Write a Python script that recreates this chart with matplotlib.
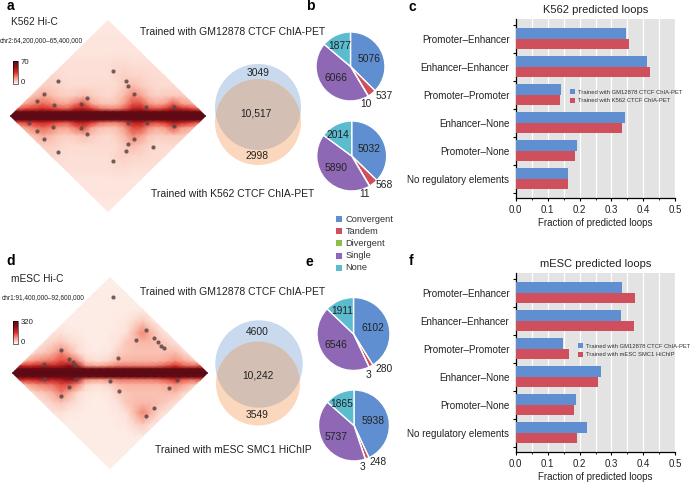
import numpy as np
import matplotlib
matplotlib.use("Agg")
import matplotlib.pyplot as plt
from matplotlib.colors import LinearSegmentedColormap
from matplotlib.patches import Circle, Polygon

plt.rcParams["font.family"] = ["Liberation Sans", "DejaVu Sans"]

W, H = 690, 482

# pie data (clockwise from 12 o'clock)
PIE_NAMES = ["Convergent", "Tandem", "Divergent", "Single", "None"]
PIE_COLORS = ["#5f8fd0", "#cf4f5c", "#8cbf4a", "#8f68b5", "#5cbccf"]
PIE_B1 = [5076, 537, 10, 6066, 1877]
PIE_B2 = [5032, 568, 11, 5890, 2014]
PIE_E1 = [6102, 280, 3, 6546, 1911]
PIE_E2 = [5938, 248, 3, 5737, 1865]

# bar data
CATEGORIES = ["Promoter–Enhancer", "Enhancer–Enhancer", "Promoter–Promoter",
              "Enhancer–None", "Promoter–None", "No regulatory elements"]
K562_GM = [0.345, 0.410, 0.142, 0.342, 0.192, 0.163]
K562_K = [0.354, 0.422, 0.140, 0.333, 0.186, 0.164]
MESC_GM = [0.334, 0.330, 0.148, 0.267, 0.190, 0.223]
MESC_M = [0.374, 0.370, 0.167, 0.258, 0.184, 0.191]

# venn labels
VENN_A = ["3049", "10,517", "2998"]
VENN_D = ["4600", "10,242", "3549"]

# coarse Hi-C maps, one row per distance from the diagonal
DIST_LEVELS = [0, 4, 7, 12, 20, 30, 40, 52, 64, 80, 98]
K562_MAP = [
    [70] * 25,
    [66] * 25,
    [36, 28, 32, 34, 38, 34, 30, 28, 40, 44, 34, 25, 22, 22, 28, 42, 44, 32, 30, 34, 46, 40, 34, 28, 36],
    [10, 13, 17, 22, 26, 22, 17, 16, 23, 30, 16, 11, 10, 11, 18, 30, 30, 19, 15, 18, 28, 18, 15, 11, 10],
    [6, 6, 8, 11, 15, 12, 9, 8, 9, 11, 9, 7, 6, 8, 12, 21, 17, 10, 8, 9, 9, 9, 8, 6, 6],
    [6, 6, 6, 6, 8, 8, 7, 6, 6, 6, 6, 6, 6, 6, 9, 12, 9, 7, 6, 6, 6, 6, 6, 6, 6],
    [5, 5, 5, 5, 6, 7, 6, 5, 5, 5, 5, 5, 5, 7, 8, 7, 7, 6, 6, 5, 5, 5, 5, 5, 5],
    [5, 5, 5, 5, 5, 5, 5, 5, 5, 5, 5, 5, 5, 6, 6, 5, 5, 5, 5, 5, 5, 5, 5, 5, 5],
    [4] * 25,
    [4] * 25,
    [3] * 25,
]
MESC_MAP = [
    [320] * 25,
    [300] * 25,
    [120, 175, 165, 185, 205, 185, 205, 240, 205, 90, 78, 78, 90, 105, 105, 105, 105, 105, 115, 135, 165, 125, 115, 130, 120],
    [30, 42, 70, 92, 102, 112, 140, 130, 95, 34, 24, 24, 36, 56, 60, 60, 60, 60, 60, 70, 90, 70, 48, 32, 30],
    [18, 18, 20, 35, 45, 65, 100, 65, 30, 16, 14, 14, 17, 38, 44, 48, 48, 48, 48, 52, 56, 30, 18, 18, 18],
    [16, 16, 16, 18, 25, 35, 45, 30, 20, 14, 12, 12, 14, 20, 44, 52, 56, 56, 48, 38, 22, 16, 16, 16, 16],
    [14, 14, 14, 14, 16, 18, 20, 16, 14, 12, 12, 12, 14, 16, 22, 55, 95, 62, 30, 18, 14, 14, 14, 14, 14],
    [12, 12, 12, 12, 12, 12, 12, 12, 12, 12, 12, 12, 12, 14, 16, 28, 40, 20, 14, 12, 12, 12, 12, 12, 12],
    [12] * 25,
    [12] * 25,
    [10] * 25,
]

# called loops on the maps (pixel positions in the figure)
K562_LOOPS_X = [113, 126, 128, 134, 146, 174, 87, 81, 54, 44, 37, 58, 29, 37, 44, 53, 58, 81, 87, 128, 134, 128, 126, 113, 147, 153, 174]
K562_LOOPS_Y = [71, 81, 86, 94, 107, 107, 98, 104, 105, 94, 101, 81, 123, 131, 139, 127, 152, 128, 134, 123, 139, 144, 151, 161, 123, 147, 126]
MESC_LOOPS_X = [113, 146, 136, 154, 158, 161, 164, 118, 61, 69, 73, 75, 44, 44, 76, 69, 61, 110, 119, 146, 154, 169, 177]
MESC_LOOPS_Y = [297, 330, 340, 338, 342, 346, 348, 358, 350, 359, 362, 365, 364, 379, 379, 387, 396, 381, 391, 416, 408, 388, 380]


def px_axes(x0, y0, x1, y1):
    return fig.add_axes([x0 / W, 1 - y1 / H, (x1 - x0) / W, (y1 - y0) / H])


def draw_map(ax, rows, x0, x1, yc, half, vmax, loops_x, loops_y):
    rows = np.array(rows, dtype=float)
    levels = np.array(DIST_LEVELS, dtype=float)
    ys = np.concatenate([yc - levels[:0:-1], yc + levels])
    grid = np.vstack([rows[:0:-1], rows])
    xs = np.linspace(x0, x1, rows.shape[1])
    mesh = ax.pcolormesh(xs, ys, grid, cmap=HIC_CMAP, vmin=0, vmax=vmax, shading="gouraud")
    xc = (x0 + x1) / 2
    diamond = Polygon([(x0, yc), (xc, yc - half), (x1, yc), (xc, yc + half)],
                      closed=True, transform=ax.transData, fc="none", ec="none")
    ax.add_patch(diamond)
    mesh.set_clip_path(diamond)
    ax.scatter(loops_x, loops_y, s=9, c="#5a4646", alpha=0.85, linewidths=0, zorder=3)
    return mesh


def draw_venn(ax, cx1, cy1, r1, cx2, cy2, r2, labels, label_pos):
    top = Circle((cx1, cy1), r1, fc="#c9d9ee", ec="none", zorder=2)
    bottom = Circle((cx2, cy2), r2, fc="#fbd7bd", ec="none", zorder=2)
    ax.add_patch(top)
    ax.add_patch(bottom)
    overlap = Circle((cx2, cy2), r2, fc="#d3bfb4", ec="none", zorder=3)
    ax.add_patch(overlap)
    overlap.set_clip_path(Circle((cx1, cy1), r1, transform=ax.transData))
    for lab, (x, y) in zip(labels, label_pos):
        ax.text(x, y, lab, ha="center", va="center", fontsize=7.4, color="#222222", zorder=4)


def draw_pie(cx, cy, r, values, label_pos):
    pax = px_axes(cx - r - 1, cy - r - 1, cx + r + 1, cy + r + 1)
    pax.pie(values, colors=PIE_COLORS, startangle=90, counterclock=False, radius=r,
            wedgeprops={"edgecolor": "white", "linewidth": 1.0})
    pax.set_xlim(-r - 1, r + 1)
    pax.set_ylim(-r - 1, r + 1)
    for val, (x, y) in zip(values, label_pos):
        canvas.text(x, y, str(val), ha="center", va="center", fontsize=7.4, color="#222222", zorder=6)


def draw_bars(y0, y1, title, blue, red, blue_name, red_name, leg_xy):
    bax = px_axes(515.7, y0, 675.3, y1)
    pos = np.arange(len(CATEGORIES))
    bax.set_facecolor("#e3e3e3")
    bax.barh(pos - 0.19, blue, height=0.38, color="#5f8fd0", label=blue_name, zorder=3)
    bax.barh(pos + 0.19, red, height=0.38, color="#cf4f5c", label=red_name, zorder=3)
    bax.set_xlim(0, 0.5)
    bax.set_ylim(5.68, -0.70)
    bax.set_xticks(np.arange(0, 0.51, 0.1))
    bax.set_xticks(np.arange(0.05, 0.5, 0.1), minor=True)
    bax.set_yticks(pos, CATEGORIES)
    bax.set_yticks(np.arange(-0.5, 6), minor=True)
    bax.grid(True, axis="x", which="both", color="white", linewidth=0.9, zorder=1)
    bax.tick_params(axis="y", which="major", length=0, labelsize=7.1, pad=4.5, labelcolor="#222222")
    bax.tick_params(axis="y", which="minor", length=2, width=0.8)
    bax.tick_params(axis="x", which="major", length=2.5, width=0.8, labelsize=7.0, pad=2.5, labelcolor="#222222")
    bax.tick_params(axis="x", which="minor", length=1.5, width=0.6)
    for side in ["top", "right"]:
        bax.spines[side].set_visible(False)
    for side in ["left", "bottom"]:
        bax.spines[side].set_linewidth(0.9)
    bax.set_xlabel("Fraction of predicted loops", fontsize=7.0, labelpad=2.5, color="#222222")
    bax.set_title(title, fontsize=8.0, pad=4, color="#222222")
    bax.legend(loc="upper left", bbox_to_anchor=leg_xy, bbox_transform=canvas.transData,
               frameon=False, fontsize=4.2, handlelength=1.0, handleheight=1.0,
               handletextpad=0.4, labelspacing=0.55, borderpad=0, borderaxespad=0,
               labelcolor="#333333")


fig = plt.figure(figsize=(W / 100, H / 100), dpi=100)
HIC_CMAP = LinearSegmentedColormap.from_list(
    "hic", [(0, "#ffffff"), (0.03, "#fdeee8"), (0.08, "#fcdcd2"), (0.25, "#f79d88"),
            (0.5, "#dc2f26"), (0.75, "#8f0f18"), (1, "#5a0a14")])

# whole figure drawn in pixel coordinates, y pointing down
canvas = fig.add_axes([0, 0, 1, 1])
canvas.set_zorder(5)
canvas.set_xlim(0, W)
canvas.set_ylim(H, 0)
canvas.axis("off")

# heatmaps
mesh_a = draw_map(canvas, K562_MAP, 10, 206, 116, 96, 70, K562_LOOPS_X, K562_LOOPS_Y)
mesh_d = draw_map(canvas, MESC_MAP, 12, 208, 373, 96, 320, MESC_LOOPS_X, MESC_LOOPS_Y)
canvas.set_xlim(0, W)
canvas.set_ylim(H, 0)
for mesh, y0, y1, top_lab in [(mesh_a, 61, 84, "70"), (mesh_d, 321, 344, "320")]:
    cax = px_axes(12.5, y0, 18, y1)
    cb = fig.colorbar(mesh, cax=cax, ticks=[])
    cb.outline.set_linewidth(0.4)
    canvas.text(21, y0 + 1, top_lab, fontsize=5.6, va="center", color="#222222")
    canvas.text(21, y1 - 1, "0", fontsize=5.6, va="center", color="#222222")

canvas.text(11, 22, "K562 Hi-C", fontsize=7.3, va="center", color="#222222")
canvas.text(11, 279.5, "mESC Hi-C", fontsize=7.3, va="center", color="#222222")
canvas.text(0, 41, "chr2:64,200,000–65,400,000", fontsize=4.7, va="center", color="#222222")
canvas.text(2, 298, "chr1:91,400,000–92,600,000", fontsize=4.7, va="center", color="#222222")

# venns
draw_venn(canvas, 258, 107, 43, 258, 122, 43, VENN_A, [(258, 73), (256, 113), (257, 156)])
draw_venn(canvas, 259, 364, 43.7, 258, 383.5, 42, VENN_D, [(257, 332), (258, 375), (257, 415)])
canvas.text(140, 32, "Trained with GM12878 CTCF ChIA-PET", fontsize=7.45, va="center", color="#222222")
canvas.text(151, 194, "Trained with K562 CTCF ChIA-PET", fontsize=7.45, va="center", color="#222222")
canvas.text(140, 292, "Trained with GM12878 CTCF ChIA-PET", fontsize=7.45, va="center", color="#222222")
canvas.text(155, 450, "Trained with mESC SMC1 HiChIP", fontsize=7.45, va="center", color="#222222")

# pies
draw_pie(350.5, 66.5, 34.5, PIE_B1, [(369, 59), (384, 96), (366, 104), (336, 78), (340, 46)])
draw_pie(351.7, 156, 35, PIE_B2, [(369, 149), (384, 185), (365, 194), (336, 168), (338, 135)])
draw_pie(353.5, 334, 36.5, PIE_E1, [(373, 328), (384, 369), (368, 375), (336, 345), (342, 311)])
draw_pie(354, 425.5, 35.5, PIE_E2, [(373, 421), (378, 462), (362, 467), (336, 437), (342, 404)])

# shared pie key
for name, col, y in zip(PIE_NAMES, PIE_COLORS, [219, 231, 243, 255.5, 267.5]):
    canvas.scatter([339], [y], marker="s", s=18, c=col, linewidths=0)
    canvas.text(345.7, y, name, fontsize=6.7, va="center", color="#333333")

# bars
draw_bars(19, 197.7, "K562 predicted loops", K562_GM, K562_K,
          "Trained with GM12878 CTCF ChIA-PET", "Trained with K562 CTCF ChIA-PET", (569.5, 89))
draw_bars(273, 451.7, "mESC predicted loops", MESC_GM, MESC_M,
          "Trained with GM12878 CTCF ChIA-PET", "Trained with mESC SMC1 HiChIP", (577.5, 343))

# panel letters
for lab, x, y in [("a", 10, 6), ("b", 310, 6), ("c", 412, 7), ("d", 11, 261), ("e", 309, 262), ("f", 411, 261)]:
    canvas.text(x, y, lab, fontsize=10, fontweight="bold", ha="center", va="center", color="black")

fig.savefig("out.png", dpi=100)
